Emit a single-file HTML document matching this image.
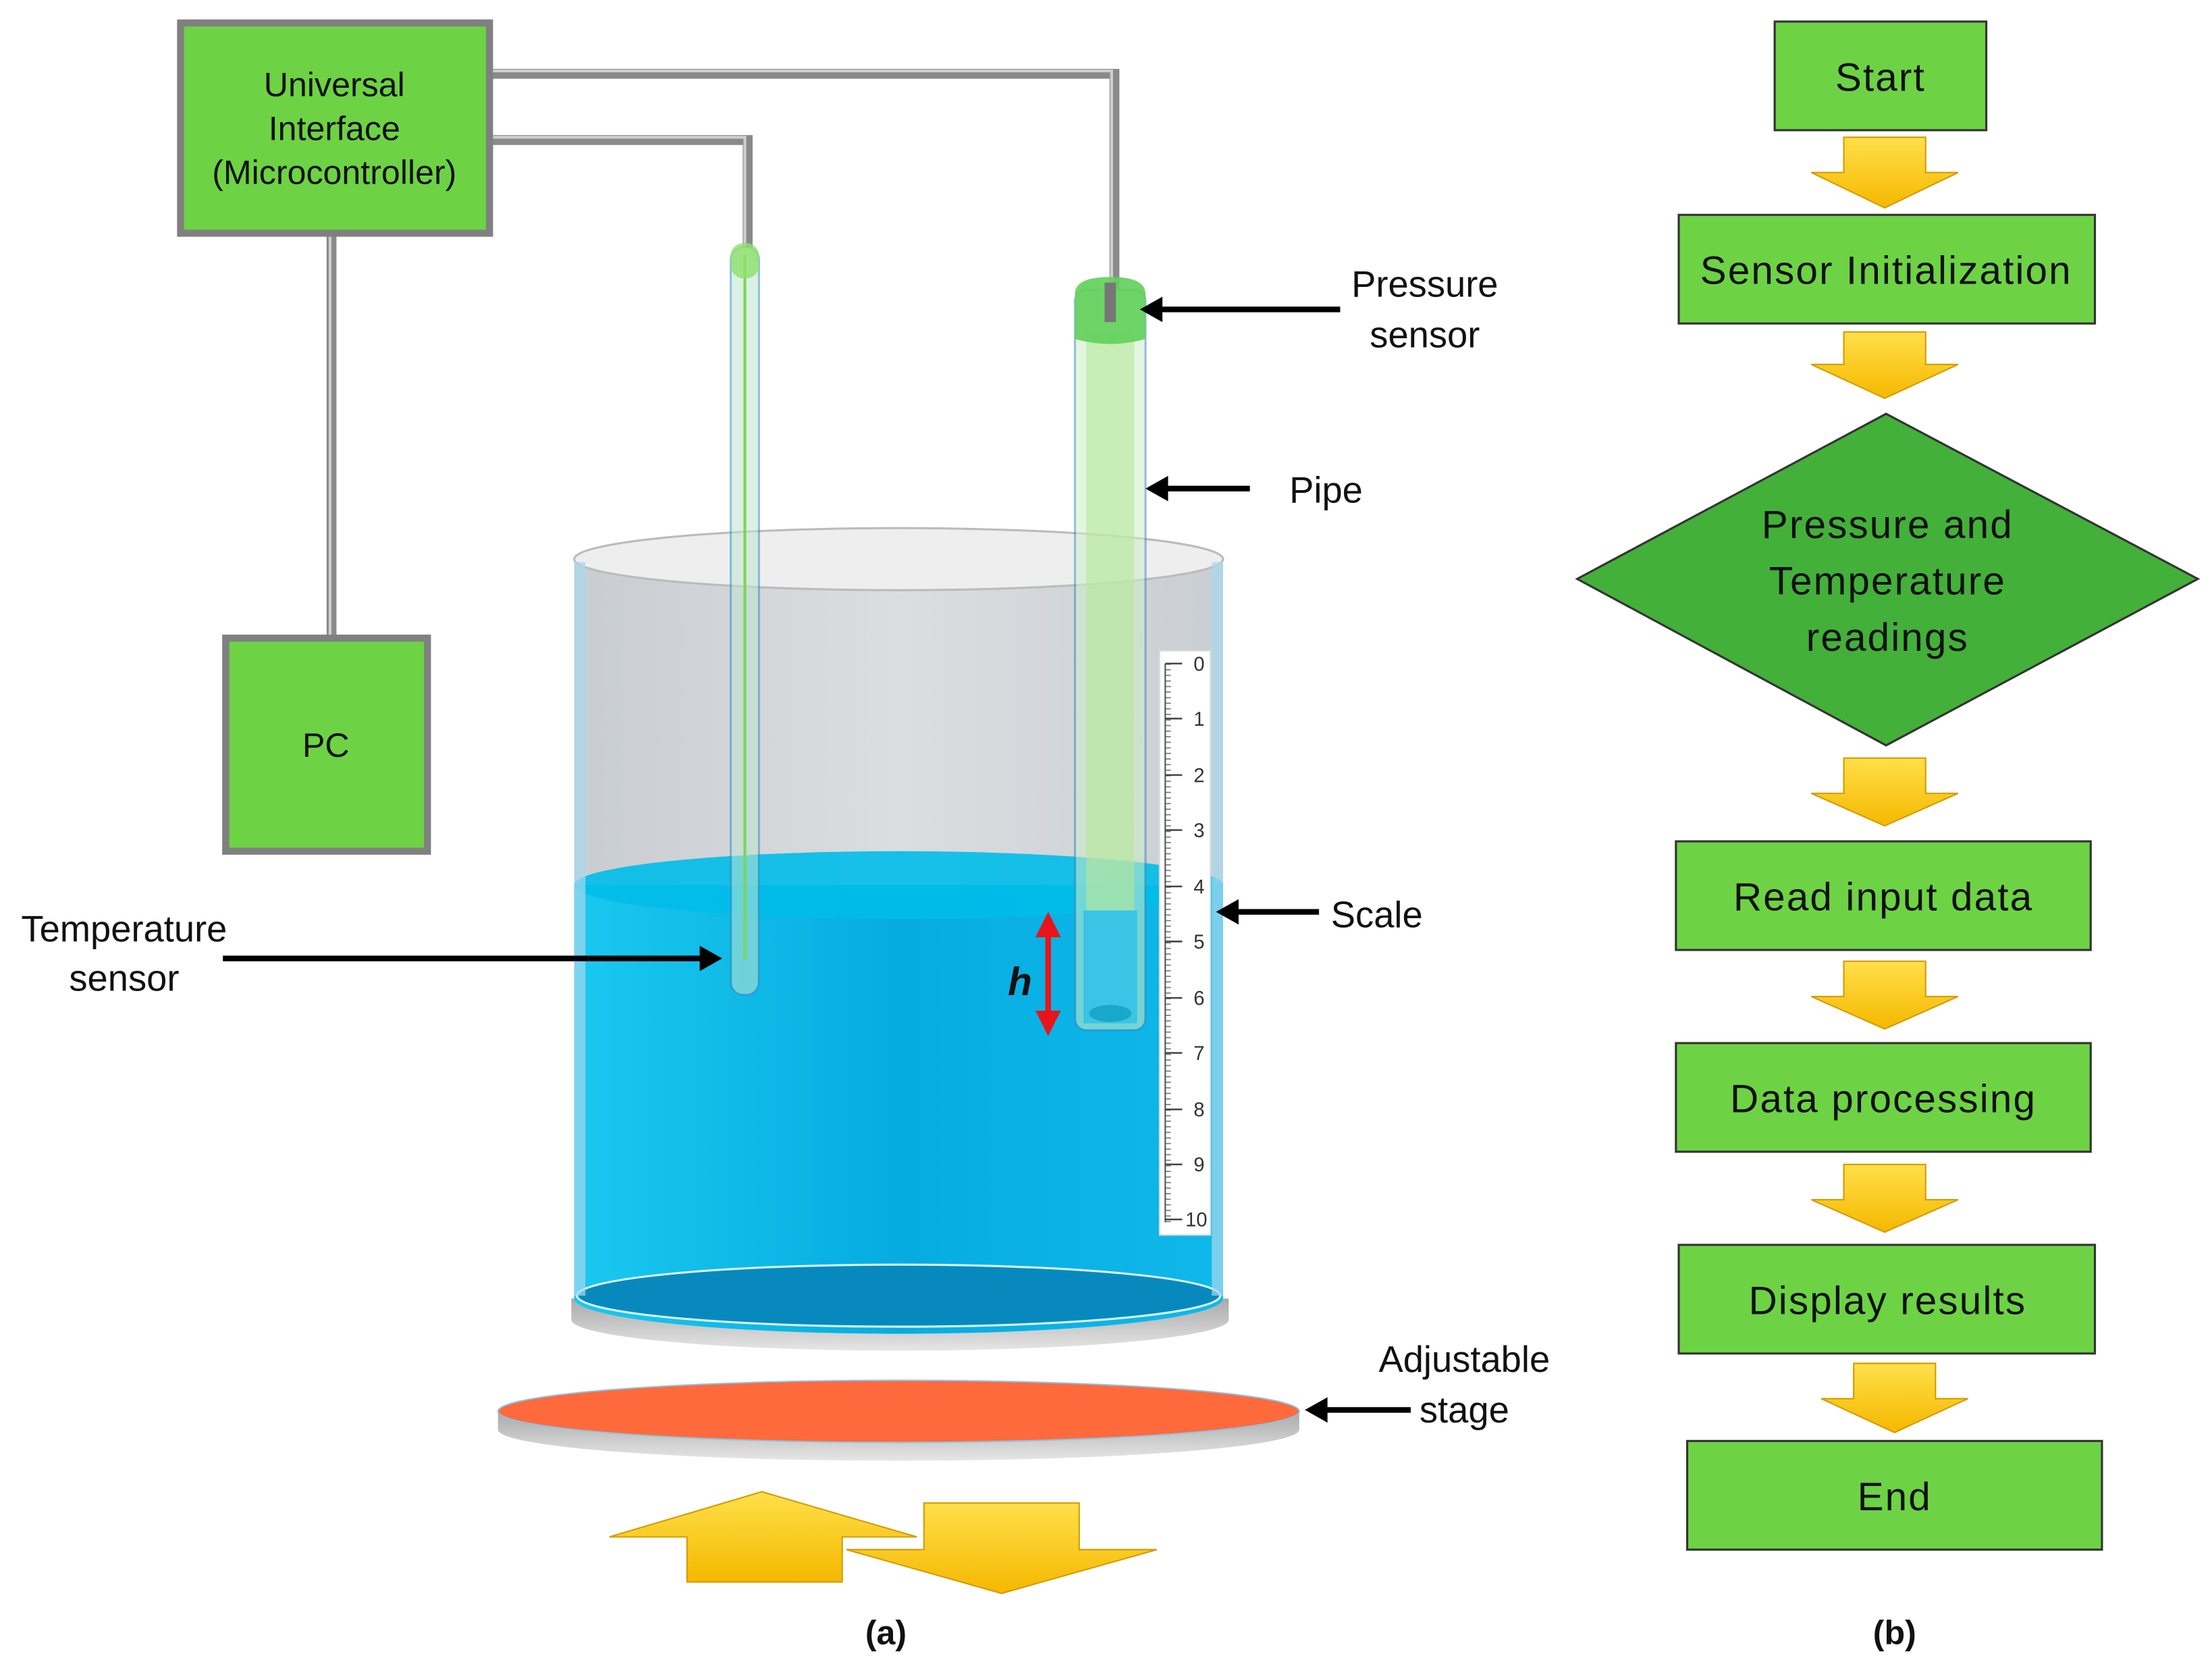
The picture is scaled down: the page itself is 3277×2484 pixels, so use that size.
<!DOCTYPE html>
<html><head><meta charset="utf-8"><style>
html,body{margin:0;padding:0;background:#fff}
svg{display:block}
text{font-family:"Liberation Sans",sans-serif}
</style></head><body>
<svg width="3277" height="2484" viewBox="0 0 1568 1188" xmlns="http://www.w3.org/2000/svg">
<defs>
<linearGradient id="glass" x1="0" x2="1"><stop offset="0" stop-color="#c8cdd2"/><stop offset="0.5" stop-color="#dcdde0"/><stop offset="1" stop-color="#c9ced4"/></linearGradient>
<linearGradient id="water" x1="0" x2="1"><stop offset="0" stop-color="#19c8ef"/><stop offset="0.5" stop-color="#06ace0"/><stop offset="1" stop-color="#10b8ea"/></linearGradient>
<linearGradient id="yel" x1="0" x2="0" y1="0" y2="1"><stop offset="0" stop-color="#ffe04a"/><stop offset="1" stop-color="#f5b800"/></linearGradient>
<linearGradient id="rim" x1="0" x2="0" y1="0" y2="1"><stop offset="0" stop-color="#a9a9a9"/><stop offset="1" stop-color="#e6e6e6"/></linearGradient>
<pattern id="ticks" x="826" y="470" width="8" height="3.95" patternUnits="userSpaceOnUse"><line x1="0" y1="0.5" x2="4" y2="0.5" stroke="#777" stroke-width="0.8"/></pattern>
</defs>
<rect width="1568" height="1188" fill="#fff"/>

<g fill="none" stroke="#8a8a8a" stroke-width="7">
<polyline points="348,52 790,52 790,205"/>
<polyline points="348,99 530,99 530,175"/>
<line x1="235" y1="166" x2="235" y2="451"/>
</g>
<g fill="none" stroke="#cfcfcf" stroke-width="2">
<polyline points="348,50 788,50 788,205"/>
<polyline points="348,97 528,97 528,175"/>
<line x1="234" y1="166" x2="234" y2="451"/>
</g>

<rect x="128" y="16" width="219" height="149" fill="#6dd344" stroke="#808080" stroke-width="5"/>
<text x="237" y="68" font-size="24" text-anchor="middle" fill="#111">Universal</text>
<text x="237" y="99" font-size="24" text-anchor="middle" fill="#111">Interface</text>
<text x="237" y="130" font-size="24" text-anchor="middle" fill="#111">(Microcontroller)</text>
<rect x="160" y="452" width="143" height="151" fill="#6dd344" stroke="#808080" stroke-width="5"/>
<text x="231" y="536" font-size="24" text-anchor="middle" fill="#111">PC</text>

<path d="M405,920 L405,935 A233,22 0 0 0 871,935 L871,920 Z" fill="url(#rim)"/>
<path d="M407,398 L407,920 A230,25 0 0 0 867,920 L867,398 Z" fill="url(#glass)"/>
<ellipse cx="637" cy="396" rx="230" ry="22" fill="#eeeeee" stroke="#bbb" stroke-width="1.5"/>
<path d="M407,627 L407,920 A230,25 0 0 0 867,920 L867,627 Z" fill="url(#water)"/>
<ellipse cx="637" cy="627" rx="230" ry="24" fill="#00bde9" opacity="0.9"/>
<ellipse cx="637" cy="918" rx="228" ry="22" fill="#0889bd" stroke="#d8f4ff" stroke-width="1.5"/>
<rect x="407" y="398" width="8" height="520" fill="#a8d8ee" opacity="0.7"/>
<rect x="859" y="398" width="8" height="520" fill="#a8d8ee" opacity="0.7"/>

<rect x="822" y="461" width="36" height="414" fill="#fff" stroke="#ddd"/>
<rect x="826" y="470" width="6" height="396" fill="url(#ticks)"/>
<line x1="826" y1="470" x2="826" y2="866" stroke="#555" stroke-width="1"/>
<g font-size="14" fill="#333" text-anchor="middle">
<text x="850" y="475">0</text><text x="850" y="514">1</text><text x="850" y="554">2</text><text x="850" y="593">3</text><text x="850" y="633">4</text><text x="850" y="672">5</text><text x="850" y="712">6</text><text x="850" y="751">7</text><text x="850" y="791">8</text><text x="850" y="830">9</text><text x="848" y="869">10</text>
</g>
<path d="M826,470 h12 M826,509 h12 M826,549 h12 M826,588 h12 M826,628 h12 M826,667 h12 M826,707 h12 M826,746 h12 M826,786 h12 M826,825 h12 M826,864 h12" stroke="#444" stroke-width="1.2"/>

<rect x="518" y="175" width="20" height="530" rx="9" fill="#bfe6d0" opacity="0.55" stroke="#3d8fc0" stroke-width="1.5"/>
<line x1="528" y1="180" x2="528" y2="680" stroke="#7fd45a" stroke-width="2"/>
<rect x="518" y="172" width="20" height="25" rx="9" fill="#8ee06a" opacity="0.8"/>

<rect x="762" y="205" width="50" height="525" rx="8" fill="#cfeec8" opacity="0.55" stroke="#3d8fc0" stroke-width="1.5"/>
<rect x="770" y="235" width="34" height="410" fill="#b6e89a" opacity="0.6"/>
<rect x="768" y="645" width="38" height="80" fill="#2bc0ea" opacity="0.8"/>
<ellipse cx="787" cy="718" rx="15" ry="6" fill="#1aa7cc"/>
<path d="M762,208 Q762,196 787,196 Q812,196 812,208 L812,240 Q787,247 762,240 Z" fill="#5fd05a" opacity="0.9"/>
<rect x="783" y="200" width="8" height="28" fill="#777"/>

<line x1="743" y1="660" x2="743" y2="720" stroke="#e8141a" stroke-width="4"/>
<polygon points="743,646 734,664 752,664" fill="#e8141a"/>
<polygon points="743,734 734,716 752,716" fill="#e8141a"/>
<text x="723" y="705" font-size="28" font-weight="bold" font-style="italic" text-anchor="middle" fill="#111">h</text>

<path d="M353,1000 L353,1013 A284,22 0 0 0 921,1013 L921,1000 Z" fill="url(#rim)"/>
<ellipse cx="637" cy="1000" rx="284" ry="22" fill="#ff6a3d" stroke="#8fc2e0" stroke-width="1"/>

<polygon points="432,1089 540,1057 650,1089 597,1089 597,1121 487,1121 487,1089" fill="url(#yel)" stroke="#d39b00" stroke-width="1"/>
<polygon points="655,1065 765,1065 765,1098 820,1098 710,1129 600,1098 655,1098" fill="url(#yel)" stroke="#d39b00" stroke-width="1"/>

<g stroke="#000" stroke-width="4">
<line x1="820" y1="219" x2="950" y2="219"/>
<line x1="824" y1="346" x2="886" y2="346"/>
<line x1="874" y1="646" x2="935" y2="646"/>
<line x1="158" y1="679" x2="500" y2="679"/>
<line x1="937" y1="999" x2="1000" y2="999"/>
</g>
<g fill="#000">
<polygon points="808,219 824,210 824,228"/>
<polygon points="812,346 828,337 828,355"/>
<polygon points="862,646 878,637 878,655"/>
<polygon points="512,679 496,670 496,688"/>
<polygon points="925,999 941,990 941,1008"/>
</g>
<g font-size="26" fill="#111" text-anchor="middle">
<text x="1010" y="210">Pressure</text><text x="1010" y="246">sensor</text>
<text x="940" y="356">Pipe</text>
<text x="976" y="657">Scale</text>
<text x="88" y="667">Temperature</text><text x="88" y="702">sensor</text>
<text x="1038" y="972">Adjustable</text><text x="1038" y="1008">stage</text>
<text x="628" y="1165" font-weight="bold" font-size="24">(a)</text>
<text x="1343" y="1165" font-weight="bold" font-size="24">(b)</text>
</g>

<g fill="#6dd344" stroke="#333" stroke-width="1.5">
<rect x="1258" y="15" width="150" height="77"/>
<rect x="1190" y="152" width="295" height="77"/>
<rect x="1188" y="596" width="294" height="77"/>
<rect x="1188" y="739" width="294" height="77"/>
<rect x="1190" y="882" width="295" height="77"/>
<rect x="1196" y="1021" width="294" height="77"/>
</g>
<polygon points="1118,410 1337,293 1558,410 1337,528" fill="#43b03a" stroke="#333" stroke-width="1.5"/>
<g font-size="28" fill="#111" text-anchor="middle" letter-spacing="1">
<text x="1333" y="64">Start</text>
<text x="1337" y="201">Sensor Initialization</text>
<text x="1338" y="381">Pressure and</text>
<text x="1338" y="421">Temperature</text>
<text x="1338" y="461">readings</text>
<text x="1335" y="645">Read input data</text>
<text x="1335" y="788">Data processing</text>
<text x="1338" y="931">Display results</text>
<text x="1343" y="1070">End</text>
</g>
<g fill="url(#yel)" stroke="#d39b00" stroke-width="1">
<polygon points="1307,97 1365,97 1365,122 1388,122 1336,147 1284,122 1307,122"/>
<polygon points="1307,235 1365,235 1365,258 1388,258 1336,282 1284,258 1307,258"/>
<polygon points="1307,537 1365,537 1365,562 1388,562 1336,585 1284,562 1307,562"/>
<polygon points="1307,681 1365,681 1365,706 1388,706 1336,729 1284,706 1307,706"/>
<polygon points="1307,825 1365,825 1365,850 1388,850 1336,873 1284,850 1307,850"/>
<polygon points="1314,966 1372,966 1372,991 1395,991 1343,1015 1291,991 1314,991"/>
</g>
</svg>
</body></html>
